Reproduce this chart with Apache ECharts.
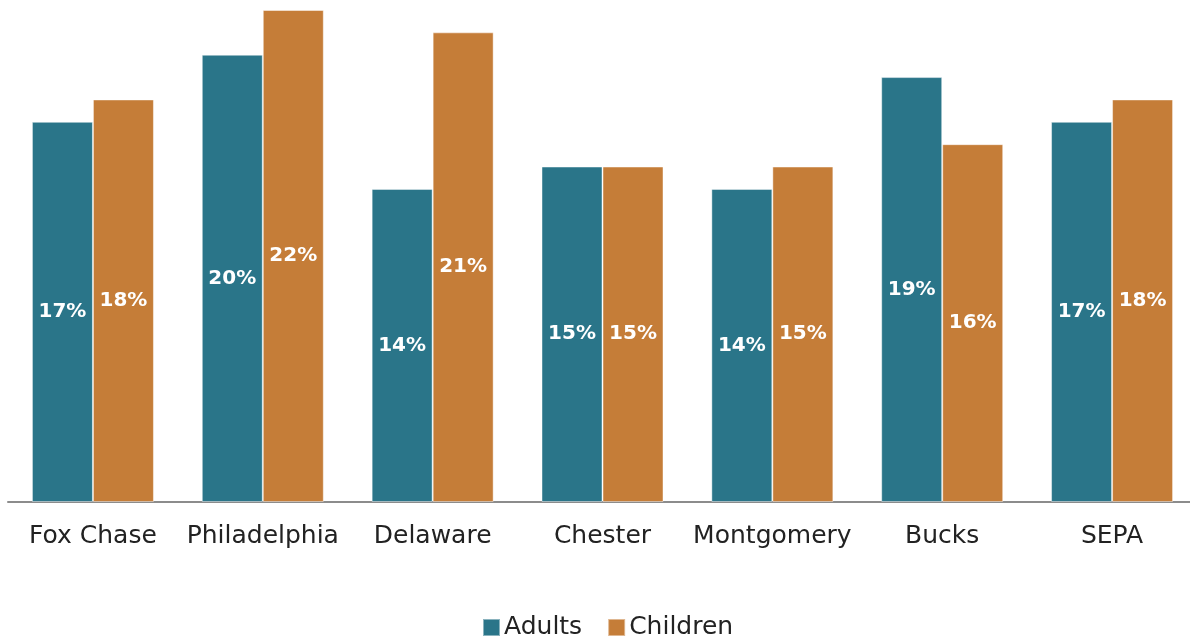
<!DOCTYPE html>
<html><head><meta charset="utf-8">
<script src="https://cdn.jsdelivr.net/npm/echarts@6/dist/echarts.min.js"></script>
<style>html,body{margin:0;padding:0;background:#fff;overflow:hidden}#c{width:1200px;height:638px}</style>
</head><body><div id="c"></div>
<script>
const categories = ['Fox Chase','Philadelphia','Delaware','Chester','Montgomery','Bucks','SEPA'];
const adults = [17, 20, 14, 15, 14, 19, 17];
const children = [18, 22, 21, 15, 15, 16, 18];
const seriesNames = ['Adults','Children'];
const FONT = 'DejaVu Sans';
const chart = echarts.init(document.getElementById('c'), null, {renderer:'canvas'});
const lbl = {show:true, position:'inside', color:'#fff', fontFamily:FONT, fontWeight:'bold', fontSize:20, formatter: p => p.value + '%'};
chart.setOption({
  animation:false,
  grid:{left:8, width:1189, top:10, bottom:136},
  legend:{top:615, left:482, padding:0, itemWidth:17, itemHeight:17, itemGap:25, icon:'rect',
    textStyle:{fontFamily:FONT, fontSize:25, color:'#222', padding:[0,0,0,-1]}, data:seriesNames},
  xAxis:{type:'category', data:categories,
    axisLine:{lineStyle:{color:'#8c8c8c', width:2}}, axisTick:{show:false},
    axisLabel:{fontFamily:FONT, fontSize:25, color:'#222', margin:22, interval:0}},
  yAxis:{type:'value', min:0, max:22, show:false, splitLine:{show:false}},
  series:[
    {name:seriesNames[0], type:'bar', data:adults, barWidth:61, barGap:'0%',
     itemStyle:{color:'#2a7589', borderColor:'rgba(255,255,255,0.45)', borderWidth:1}, label:lbl},
    {name:seriesNames[1], type:'bar', data:children, barWidth:61,
     itemStyle:{color:'#c57d38', borderColor:'rgba(255,255,255,0.45)', borderWidth:1}, label:lbl}
  ]
});
</script></body></html>
